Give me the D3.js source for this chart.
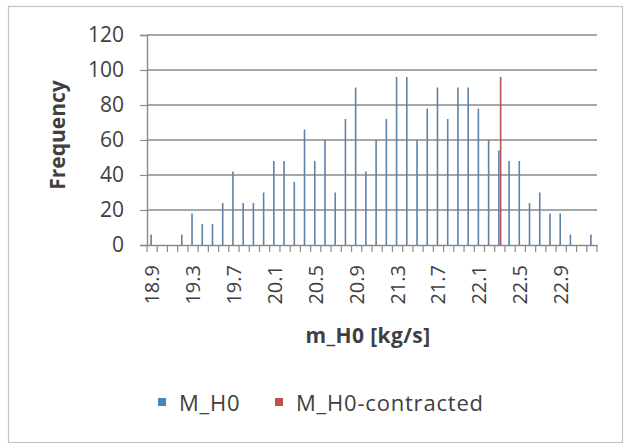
<!DOCTYPE html>
<html>
<head>
<meta charset="utf-8">
<script src="https://cdn.jsdelivr.net/npm/d3@7"></script>
<style>
  body { margin: 0; background: #fff; }
  text { font-family: "Open Sans", sans-serif; fill: #404040; }
</style>
</head>
<body>
<div id="chart"></div>
<script>
// DATA //
let categories = ["18.9","19.0","19.1","19.2","19.3","19.4","19.5","19.6","19.7","19.8",
                  "19.9","20.0","20.1","20.2","20.3","20.4","20.5","20.6","20.7","20.8",
                  "20.9","21.0","21.1","21.2","21.3","21.4","21.5","21.6","21.7","21.8",
                  "21.9","22.0","22.1","22.2","22.3","22.4","22.5","22.6","22.7","22.8",
                  "22.9","23.0","23.1","23.2"];
let mH0 = [6, 0, 0, 6, 18, 12, 12, 24, 42, 24,
           24, 30, 48, 48, 36, 66, 48, 60, 30, 72,
           90, 42, 60, 72, 96, 96, 60, 78, 90, 72,
           90, 90, 78, 60, 54, 48, 48, 24, 30, 18,
           18, 6, 0, 6];
let mH0Contracted = categories.map(c => c == "22.3" ? 96 : 0);
let yTicks = [0, 20, 40, 60, 80, 100, 120];
let seriesNames = ["M_H0", "M_H0-contracted"];
let seriesColors = ["#4F81BD", "#C0504D"];

// DIMENSIONS //
let W = 625, H = 446;
let margin = {top: 35, right: 28, bottom: 201, left: 147},
    width = W - margin.left - margin.right,
    height = H - margin.top - margin.bottom;

let svg = d3.select("#chart").append("svg")
    .attr("width", W).attr("height", H);

// chart border
svg.append("rect")
    .attr("x", 8.5).attr("y", 6.5)
    .attr("width", 614).attr("height", 436)
    .attr("fill", "none").attr("stroke", "#c4c4c4").attr("stroke-width", 1.2);

let g = svg.append("g")
    .attr("transform", "translate(" + margin.left + "," + margin.top + ")");

// SCALES //
let xScale = d3.scaleBand().domain(categories).range([0, width]).padding(0);
let yScale = d3.scaleLinear().domain([0, 120]).range([height, 0]);

// gridlines
g.append("g")
    .selectAll("line")
    .data(yTicks.filter(d => d > 0))
    .join("line")
    .attr("x1", 0).attr("x2", width)
    .attr("y1", d => yScale(d)).attr("y2", d => yScale(d))
    .attr("stroke", "#8a8a8a").attr("stroke-width", 1.4);

// Y AXIS //
let yAxis = g.append("g")
    .call(d3.axisLeft(yScale).tickValues(yTicks).tickSize(7).tickPadding(16));
yAxis.select(".domain").attr("stroke", "#8a8a8a").attr("stroke-width", 1.4);
yAxis.selectAll(".tick line").attr("stroke", "#8a8a8a").attr("stroke-width", 1.2);
yAxis.selectAll(".tick text")
    .style("font-family", "'Open Sans', sans-serif")
    .style("font-size", "21px").attr("fill", "#3a3a3a");

g.append("text")
    .attr("transform", "translate(" + (-82) + "," + (height / 2 - 5) + ") rotate(-90)")
    .attr("text-anchor", "middle")
    .style("font-size", "21px").style("font-weight", "bold")
    .attr("fill", "#262626")
    .text("Frequency");

// X AXIS //
let xAxis = g.append("g")
    .attr("transform", "translate(0," + height + ")")
    .call(d3.axisBottom(xScale).tickSize(0).tickPadding(0)
        .tickFormat((d, i) => i % 4 == 0 ? d : ""));
xAxis.select(".domain").attr("stroke", "#8a8a8a").attr("stroke-width", 1.4);
xAxis.selectAll(".tick text")
    .style("font-family", "'Open Sans', sans-serif")
    .style("font-size", "20px").attr("fill", "#3a3a3a")
    .attr("text-anchor", "end")
    .attr("transform", "translate(0,20) rotate(-90)")
    .attr("dx", 0).attr("dy", "0.35em").attr("x", 0).attr("y", 0);

// category boundary ticks
let bounds = categories.map(c => xScale(c)).concat([xScale(categories[categories.length - 1]) + xScale.bandwidth()]);
g.append("g")
    .selectAll("line")
    .data(bounds)
    .join("line")
    .attr("x1", d => d).attr("x2", d => d)
    .attr("y1", height).attr("y2", height + 7)
    .attr("stroke", "#8a8a8a").attr("stroke-width", 1.2);

g.append("text")
    .attr("x", width / 2 - 4).attr("y", height + 98)
    .attr("text-anchor", "middle")
    .style("font-size", "21px").style("font-weight", "bold")
    .style("letter-spacing", "0.4px")
    .attr("fill", "#262626")
    .text("m_H0 [kg/s]");

// DRAW BARS //
let bw = 1.6;
g.append("g")
    .selectAll("rect")
    .data(categories.map((c, i) => ({c: c, v: mH0[i]})).filter(d => d.v > 0))
    .join("rect")
    .attr("x", d => xScale(d.c) + xScale.bandwidth() / 2 - bw - 0.2)
    .attr("width", bw)
    .attr("y", d => yScale(d.v))
    .attr("height", d => height - yScale(d.v))
    .attr("fill", "#5f82a8");

g.append("g")
    .selectAll("rect")
    .data(categories.map((c, i) => ({c: c, v: mH0Contracted[i]})).filter(d => d.v > 0))
    .join("rect")
    .attr("x", d => xScale(d.c) + xScale.bandwidth() / 2)
    .attr("width", bw)
    .attr("y", d => yScale(d.v))
    .attr("height", d => height - yScale(d.v))
    .attr("fill", "#b5525a");

// LEGEND //
let legendX = [158, 275];
let legend = svg.append("g").attr("transform", "translate(0,398)");
seriesNames.forEach((name, i) => {
    legend.append("rect")
        .attr("x", legendX[i]).attr("y", 0)
        .attr("width", 8).attr("height", 8)
        .attr("fill", seriesColors[i]);
    legend.append("text")
        .attr("x", legendX[i] + 21).attr("y", 5)
        .attr("dy", "0.35em")
        .style("font-size", "22px")
        .style("letter-spacing", "0.8px")
        .attr("fill", "#3a3a3a")
        .text(name);
});
</script>
</body>
</html>
